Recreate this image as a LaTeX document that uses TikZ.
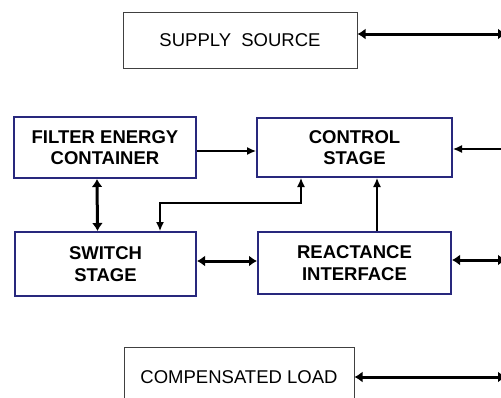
\documentclass[tikz,border=0pt]{standalone}
\usepackage{fontspec}
\setmainfont{Liberation Sans}
\usetikzlibrary{arrows.meta}
\definecolor{blockblue}{RGB}{40,40,125}
\begin{document}
\begin{tikzpicture}[x=1pt,y=-1pt,
    every node/.style={font=\fontsize{18.5}{21.5}\selectfont,align=center,inner sep=0pt},
    outer/.style={draw=black!75,line width=1pt},
    block/.style={draw=blockblue,line width=2pt,font=\fontsize{18.5}{21.5}\selectfont\bfseries},
    bus/.style={line width=3pt,{Latex[length=8pt,width=11pt]}-{Latex[length=8pt,width=11pt]}},
    sig/.style={line width=1.3pt,-{Latex[length=9pt,width=8pt]}}]
  \useasboundingbox (0,0) rectangle (501,397);
  % outer boxes
  \node[outer,minimum width=234pt,minimum height=56pt] (supply) at (240,40) {SUPPLY\ \ SOURCE};
  \node[outer,minimum width=230pt,minimum height=60pt] (load) at (239,377) {COMPENSATED LOAD};
  % stages
  \node[block,minimum width=182pt,minimum height=61pt] (filter) at (105,147.5) {FILTER ENERGY\\CONTAINER};
  \node[block,minimum width=195pt,minimum height=59pt] (control) at (354.5,147.5) {CONTROL\\STAGE};
  \node[block,minimum width=181pt,minimum height=64pt] (switch) at (105.5,264) {SWITCH\\STAGE};
  \node[block,minimum width=193pt,minimum height=62pt] (react) at (354.5,263) {REACTANCE\\INTERFACE};
  % off to the right
  \coordinate (supplyR) at (506,34);
  \coordinate (ctrlR) at (505,149);
  \coordinate (reactR) at (506,260);
  \coordinate (loadR) at (506,377);
  \draw[bus] ([yshift=6pt]supply.east) -- (supplyR);
  \draw[bus] (load.east) -- (loadR);
  \draw[bus] ([yshift=3pt]react.east) -- (reactR);
  \draw[sig] (ctrlR) -- (ctrlR -| control.east);
  % links between stages
  \draw[sig] ([yshift=-3.5pt]filter.east) -- ([yshift=-3.5pt]filter.east -| control.west);
  \draw[bus] ([xshift=-8pt]filter.south) -- ([xshift=-8pt]switch.north);
  \draw[bus] ([yshift=3pt]switch.east) -- ([yshift=3pt]switch.east -| react.west);
  \draw[sig] ([xshift=22.5pt]react.north) -- ([xshift=22.5pt]control.south);
  \draw[sig,{Latex[length=9pt,width=8pt]}-{Latex[length=9pt,width=8pt]}]
    ([xshift=54.5pt]switch.north) -- ++(0,-28) -| ([xshift=-53.5pt]control.south);
\end{tikzpicture}
\end{document}
